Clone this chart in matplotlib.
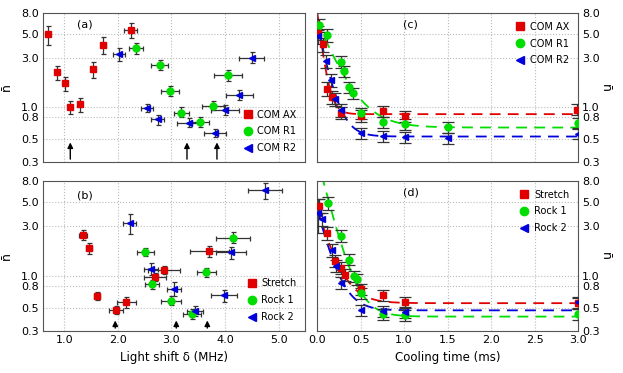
import numpy as np
import matplotlib.pyplot as plt
from matplotlib.lines import Line2D

# ---- panel (a): light shift scan, COM modes
a_ax_x = [0.70, 0.855, 1.01, 1.11, 1.29, 1.54, 1.73, 2.24]
a_ax_y = [5.0, 2.17, 1.70, 1.0, 1.07, 2.32, 3.95, 5.5]
a_ax_lo = [3.95, 1.83, 1.44, 0.865, 0.91, 1.92, 3.22, 4.65]
a_ax_hi = [6.05, 2.5, 1.97, 1.16, 1.24, 2.7, 4.67, 6.37]
a_ax_xe = [0.0, 0.0, 0.0, 0.0, 0.0, 0.04, 0.05, 0.12]

a_r1_x = [2.34, 2.78, 2.98, 3.18, 3.54, 3.78, 4.06]
a_r1_y = [3.70, 2.55, 1.445, 0.89, 0.72, 1.04, 2.03]
a_r1_lo = [3.24, 2.26, 1.29, 0.80, 0.645, 0.94, 1.79]
a_r1_hi = [4.16, 2.84, 1.60, 1.0, 0.80, 1.15, 2.30]
a_r1_xe = [0.125, 0.16, 0.17, 0.14, 0.16, 0.21, 0.26]

a_r2_x = [2.02, 2.55, 2.74, 3.32, 3.81, 4.0, 4.27, 4.50]
a_r2_y = [3.26, 0.99, 0.77, 0.71, 0.57, 0.94, 1.31, 2.99]
a_r2_lo = [2.8, 0.90, 0.68, 0.645, 0.525, 0.84, 1.18, 2.66]
a_r2_hi = [3.72, 1.08, 0.85, 0.79, 0.625, 1.05, 1.47, 3.37]
a_r2_xe = [0.11, 0.11, 0.13, 0.22, 0.2, 0.27, 0.25, 0.23]
a_arrows = [1.11, 3.29, 3.85]

# ---- panel (b): light shift scan, stretch / rock modes
b_st_x = [1.35, 1.46, 1.61, 1.97, 2.16, 2.69, 2.86, 3.71]
b_st_y = [2.45, 1.83, 0.65, 0.47, 0.57, 0.97, 1.14, 1.71]
b_st_lo = [2.18, 1.60, 0.59, 0.43, 0.50, 0.89, 1.04, 1.52]
b_st_hi = [2.71, 2.06, 0.71, 0.52, 0.63, 1.07, 1.25, 1.91]
b_st_xe = [0.07, 0.06, 0.06, 0.13, 0.17, 0.21, 0.3, 0.36]

b_k1_x = [2.51, 2.64, 2.99, 3.39, 3.65, 4.15]
b_k1_y = [1.70, 0.84, 0.58, 0.43, 1.08, 2.31]
b_k1_lo = [1.56, 0.755, 0.525, 0.39, 0.98, 2.06]
b_k1_hi = [1.84, 0.92, 0.64, 0.48, 1.19, 2.59]
b_k1_xe = [0.16, 0.13, 0.18, 0.17, 0.18, 0.31]

b_k2_x = [2.22, 2.61, 3.04, 3.44, 3.98, 4.11, 4.75]
b_k2_y = [3.18, 1.17, 0.755, 0.46, 0.66, 1.68, 6.57]
b_k2_lo = [2.52, 1.03, 0.64, 0.415, 0.56, 1.45, 5.36]
b_k2_hi = [3.86, 1.33, 0.88, 0.52, 0.74, 1.87, 7.6]
b_k2_xe = [0.12, 0.13, 0.13, 0.15, 0.24, 0.28, 0.32]
b_arrows = [1.95, 3.09, 3.67]

# ---- panel (c): cooling time, COM modes
c_ax_t = [0.01, 0.07, 0.115, 0.166, 0.27, 0.51, 0.76, 1.01, 2.99]
c_ax_y = [5.2, 4.0, 1.51, 1.25, 0.89, 0.83, 0.92, 0.82, 0.95]
c_ax_e = [0.15, 0.15, 0.15, 0.14, 0.14, 0.13, 0.12, 0.12, 0.12]
c_r1_t = [0.02, 0.115, 0.27, 0.31, 0.37, 0.41, 0.51, 0.76, 1.01, 1.51, 3.0]
c_r1_y = [6.1, 4.9, 2.74, 2.24, 1.56, 1.38, 0.88, 0.72, 0.69, 0.65, 0.70]
c_r1_e = [0.14, 0.14, 0.13, 0.12, 0.12, 0.12, 0.12, 0.12, 0.12, 0.12, 0.12]
c_r2_t = [0.01, 0.10, 0.157, 0.20, 0.27, 0.51, 0.76, 1.01, 1.51, 3.0]
c_r2_y = [4.8, 2.78, 1.83, 1.195, 0.94, 0.57, 0.53, 0.52, 0.51, 0.56]
c_r2_e = [0.15, 0.14, 0.14, 0.14, 0.14, 0.12, 0.12, 0.12, 0.12, 0.12]
# fit parameters n0, tau (ms), n_inf
c_fits = [(7.5, 0.06, 0.86), (6.0, 0.21, 0.64), (5.7, 0.107, 0.525)]

# ---- panel (d): cooling time, stretch / rock modes
d_st_t = [0.02, 0.115, 0.21, 0.27, 0.32, 0.51, 0.76, 1.01, 3.0]
d_st_y = [4.63, 2.56, 1.40, 1.19, 1.02, 0.755, 0.66, 0.56, 0.55]
d_st_e = [0.15, 0.14, 0.14, 0.13, 0.13, 0.12, 0.12, 0.12, 0.12]
d_k1_t = [0.12, 0.27, 0.37, 0.42, 0.46, 0.51, 0.76, 1.01, 3.0]
d_k1_y = [4.92, 2.41, 1.43, 1.0, 0.94, 0.69, 0.43, 0.42, 0.43]
d_k1_e = [0.14, 0.13, 0.12, 0.12, 0.12, 0.12, 0.12, 0.12, 0.12]
d_k2_t = [0.01, 0.06, 0.166, 0.215, 0.27, 0.51, 0.76, 1.01, 3.0]
d_k2_y = [3.95, 3.47, 1.75, 1.25, 0.86, 0.47, 0.46, 0.45, 0.56]
d_k2_e = [0.35, 0.15, 0.14, 0.13, 0.13, 0.12, 0.12, 0.12, 0.12]
d_fits = [(3.78, 0.148, 0.55), (12.9, 0.133, 0.41), (3.84, 0.13, 0.47)]

yticks = [0.3, 0.5, 0.8, 1.0, 3.0, 5.0, 8.0]
red, green, blue = '#e00000', '#00dd00', '#0000dd'
styles = [(red, 's'), (green, 'o'), (blue, '<')]
names_top = ['COM AX', 'COM R1', 'COM R2']
names_bot = ['Stretch', 'Rock 1', 'Rock 2']

plt.rcParams['font.family'] = 'DejaVu Sans'
fig = plt.figure(figsize=(6.23, 3.73), dpi=100)
axa = fig.add_axes([0.069, 0.566, 0.421, 0.399])
axb = fig.add_axes([0.069, 0.113, 0.421, 0.402])
axc = fig.add_axes([0.509, 0.566, 0.419, 0.399])
axd = fig.add_axes([0.509, 0.113, 0.419, 0.402])


def setup(ax, right=False):
    ax.set_yscale('log')
    ax.set_ylim(0.3, 8.0)
    ax.set_yticks(yticks)
    ax.set_yticklabels(['%.1f' % v for v in yticks])
    ax.minorticks_off()
    ax.grid(True, ls=':', color='#bbbbbb', lw=0.8)
    ax.tick_params(labelsize=8, length=0, pad=3)
    for s in ax.spines.values():
        s.set_color('#555555')
        s.set_linewidth(0.8)
    if right:
        ax.yaxis.tick_right()
        ax.yaxis.set_label_position('right')
        ax.set_ylabel('n\u0304', fontsize=9, rotation=-90)
        ax.yaxis.set_label_coords(1.13, 0.5)
    else:
        ax.set_ylabel('n\u0304', fontsize=9)
        ax.yaxis.set_label_coords(-0.115, 0.5)


def shift_series(ax, x, y, lo, hi, xe, st):
    y = np.array(y)
    yerr = [y - np.array(lo), np.array(hi) - y]
    ax.errorbar(x, y, yerr=yerr, xerr=xe, fmt=st[1], color=st[0], ms=5,
                ecolor='#333333', elinewidth=0.9, capsize=1.8, capthick=0.9, zorder=3)


def time_series(ax, t, y, e, st):
    y = np.array(y)
    ax.errorbar(t, y, yerr=y * np.array(e), fmt=st[1], color=st[0], ms=5,
                ecolor='#333333', elinewidth=0.9, capsize=4.5, capthick=0.9, zorder=3)


def legend(ax, names, loc):
    h = [Line2D([], [], ls='none', marker=m, color=c, ms=6) for c, m in styles]
    ax.legend(h, names, loc=loc, frameon=False, fontsize=7, handlelength=1,
              handletextpad=0.5, labelspacing=0.7)


# (a)
setup(axa)
axa.set_xlim(0.6, 5.5)
axa.set_xticks([1.0, 2.0, 3.0, 4.0, 5.0])
axa.set_xticklabels([])
shift_series(axa, a_ax_x, a_ax_y, a_ax_lo, a_ax_hi, a_ax_xe, styles[0])
shift_series(axa, a_r1_x, a_r1_y, a_r1_lo, a_r1_hi, a_r1_xe, styles[1])
shift_series(axa, a_r2_x, a_r2_y, a_r2_lo, a_r2_hi, a_r2_xe, styles[2])
for xa in a_arrows:
    axa.annotate('', xy=(xa, 0.49), xytext=(xa, 0.3),
                 arrowprops=dict(arrowstyle='-|>', color='black', lw=1, mutation_scale=8))
axa.text(0.13, 0.9, '(a)', transform=axa.transAxes, fontsize=8)
legend(axa, names_top, 'lower right')

# (b)
setup(axb)
axb.set_xlim(0.6, 5.5)
axb.set_xticks([1.0, 2.0, 3.0, 4.0, 5.0])
axb.set_xticklabels(['1.0', '2.0', '3.0', '4.0', '5.0'])
axb.set_xlabel('Light shift \u03b4 (MHz)', fontsize=8.5)
shift_series(axb, b_st_x, b_st_y, b_st_lo, b_st_hi, b_st_xe, styles[0])
shift_series(axb, b_k1_x, b_k1_y, b_k1_lo, b_k1_hi, b_k1_xe, styles[1])
shift_series(axb, b_k2_x, b_k2_y, b_k2_lo, b_k2_hi, b_k2_xe, styles[2])
for xa in b_arrows:
    axb.annotate('', xy=(xa, 0.40), xytext=(xa, 0.3),
                 arrowprops=dict(arrowstyle='-|>', color='black', lw=1, mutation_scale=8))
axb.text(0.13, 0.88, '(b)', transform=axb.transAxes, fontsize=8)
legend(axb, names_bot, 'lower right')

# (c) and (d)
tt = np.linspace(0, 3.0, 400)
for ax, series, fits, names, lab in [
        (axc, [(c_ax_t, c_ax_y, c_ax_e), (c_r1_t, c_r1_y, c_r1_e), (c_r2_t, c_r2_y, c_r2_e)],
         c_fits, names_top, '(c)'),
        (axd, [(d_st_t, d_st_y, d_st_e), (d_k1_t, d_k1_y, d_k1_e), (d_k2_t, d_k2_y, d_k2_e)],
         d_fits, names_bot, '(d)')]:
    setup(ax, right=True)
    ax.set_xlim(0, 3.0)
    ax.set_xticks([0.0, 0.5, 1.0, 1.5, 2.0, 2.5, 3.0])
    for (t, y, e), (a0, tau, ninf), st in zip(series, fits, styles):
        ax.plot(tt, ninf + a0 * np.exp(-tt / tau), ls=(0, (6, 4)), color=st[0], lw=1.3, zorder=2)
        time_series(ax, t, y, e, st)
    ax.text(0.33, 0.9, lab, transform=ax.transAxes, fontsize=8)
    legend(ax, names, 'upper right')
axc.set_xticklabels([])
axd.set_xticklabels(['0.0', '0.5', '1.0', '1.5', '2.0', '2.5', '3.0'])
axd.set_xlabel('Cooling time (ms)', fontsize=8.5)

fig.savefig('out.png', dpi=100)
